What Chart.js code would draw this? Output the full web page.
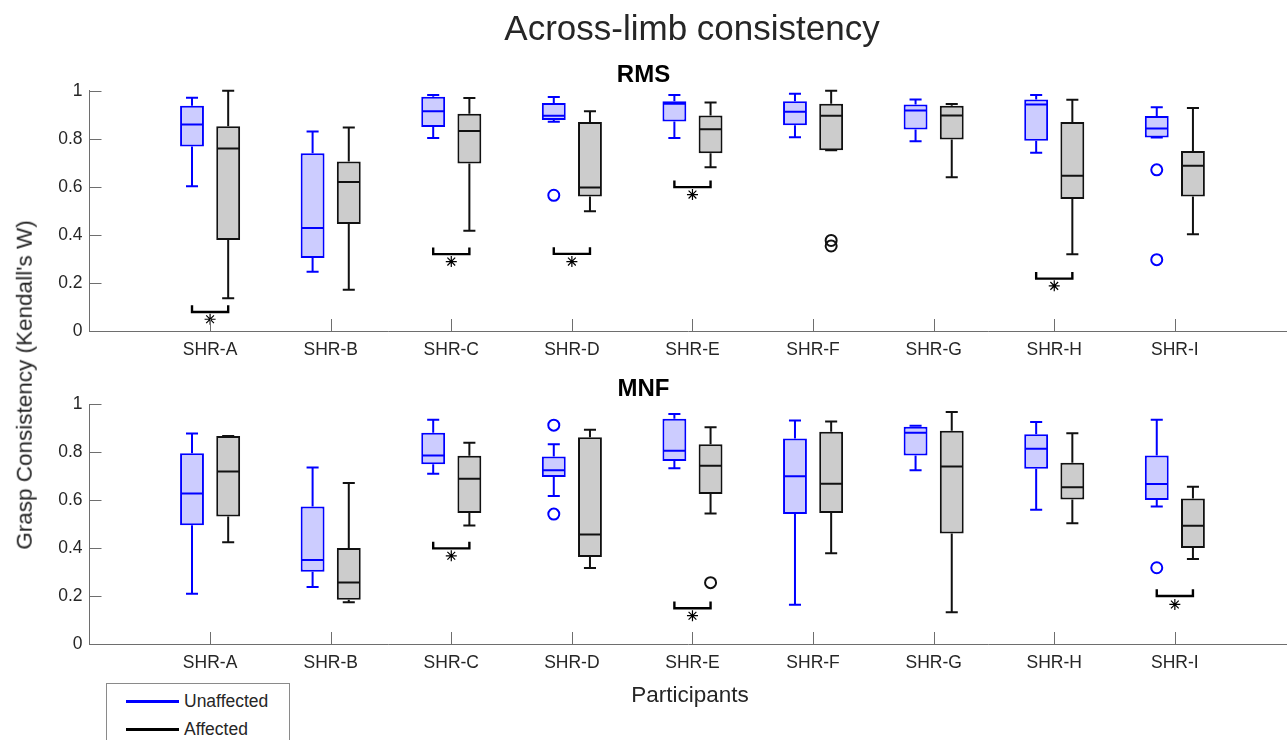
<!DOCTYPE html>
<html>
<head>
<meta charset="utf-8">
<title>Across-limb consistency</title>
<script src="https://cdn.jsdelivr.net/npm/chart.js@4.4.1/dist/chart.umd.min.js"></script>
<style>
  body { margin: 0; background: #fff; font-family: "Liberation Sans", Arial, sans-serif; }
  #page { position: relative; width: 1287px; height: 740px; overflow: hidden; background: #fff; }
  #page canvas { position: absolute; left: 0; }
  #rmsChart { top: 0; }
  #mnfChart { top: 370px; }
  .txt { position: absolute; color: #262626; white-space: nowrap; line-height: 1; }
  #mainTitle { left: 692px; top: 10px; font-size: 35px; transform: translateX(-50%); }
  #yTitle { left: 25px; top: 385px; font-size: 22.5px; transform: translate(-50%, -50%) rotate(-90deg); }
  #xTitle { left: 690px; top: 684px; font-size: 22.5px; transform: translateX(-50%); }
  #legend { position: absolute; left: 106px; top: 683px; width: 182px; height: 80px;
            border: 1px solid #8a8a8a; background: #fff; }
  .leg-row { position: absolute; left: 19px; height: 20px; display: flex; align-items: center; }
  .leg-line { width: 53px; height: 0; border-top: 3px solid; margin-right: 5px; }
  .leg-row span { font-size: 17.5px; color: #262626; }
</style>
</head>
<body>
<div id="page">
  <canvas id="rmsChart" width="1287" height="370"></canvas>
  <canvas id="mnfChart" width="1287" height="370"></canvas>
  <div class="txt" id="mainTitle">Across-limb consistency</div>
  <div class="txt" id="yTitle">Grasp Consistency (Kendall's W)</div>
  <div class="txt" id="xTitle">Participants</div>
  <div id="legend">
    <div class="leg-row" style="top:7px"><div class="leg-line" style="border-color:#0000ff"></div><span>Unaffected</span></div>
    <div class="leg-row" style="top:35px"><div class="leg-line" style="border-color:#000"></div><span>Affected</span></div>
  </div>
</div>

<script>
// participants on the x axis
const participants = ['SHR-A', 'SHR-B', 'SHR-C', 'SHR-D', 'SHR-E', 'SHR-F', 'SHR-G', 'SHR-H', 'SHR-I'];
const yTicks = [0, 0.2, 0.4, 0.6, 0.8, 1];

// RMS - unaffected limb
const rmsUnaffMin = [0.603, 0.247, 0.804, 0.871, 0.804, 0.807, 0.790, 0.742, 0.806];
const rmsUnaffQ1  = [0.768, 0.304, 0.849, 0.878, 0.872, 0.857, 0.839, 0.792, 0.806];
const rmsUnaffMed = [0.860, 0.429, 0.915, 0.896, 0.946, 0.913, 0.918, 0.943, 0.843];
const rmsUnaffQ3  = [0.938, 0.740, 0.975, 0.949, 0.957, 0.956, 0.943, 0.964, 0.895];
const rmsUnaffMax = [0.971, 0.831, 0.983, 0.974, 0.983, 0.988, 0.964, 0.983, 0.931];
const rmsUnaffOut = [[], [], [], [0.565], [], [], [], [], [0.671, 0.297]];

// RMS - affected limb
const rmsAffMin = [0.136, 0.172, 0.417, 0.499, 0.682, 0.752, 0.640, 0.320, 0.403];
const rmsAffQ1  = [0.379, 0.445, 0.697, 0.560, 0.740, 0.752, 0.797, 0.550, 0.560];
const rmsAffMed = [0.760, 0.620, 0.833, 0.597, 0.840, 0.896, 0.897, 0.646, 0.688];
const rmsAffQ3  = [0.852, 0.706, 0.904, 0.870, 0.897, 0.946, 0.938, 0.870, 0.749];
const rmsAffMax = [1.000, 0.847, 0.970, 0.915, 0.951, 1.000, 0.945, 0.963, 0.928];
const rmsAffOut = [[], [], [], [], [], [0.377, 0.354], [], [], []];

// RMS - significant differences (participant index, bracket level, asterisk level)
const rmsSigIdx   = [0, 2, 3, 4, 7];
const rmsSigY     = [0.079, 0.320, 0.321, 0.599, 0.218];
const rmsSigStarY = [0.049, 0.289, 0.289, 0.568, 0.188];

// MNF - unaffected limb
const mnfUnaffMin = [0.210, 0.238, 0.710, 0.617, 0.733, 0.164, 0.725, 0.560, 0.574];
const mnfUnaffQ1  = [0.495, 0.301, 0.750, 0.697, 0.763, 0.542, 0.786, 0.731, 0.601];
const mnfUnaffMed = [0.628, 0.350, 0.786, 0.725, 0.806, 0.700, 0.881, 0.815, 0.667];
const mnfUnaffQ3  = [0.796, 0.574, 0.881, 0.782, 0.940, 0.857, 0.906, 0.875, 0.786];
const mnfUnaffMax = [0.878, 0.736, 0.936, 0.833, 0.960, 0.932, 0.911, 0.926, 0.936];
const mnfUnaffOut = [[], [], [], [0.913, 0.542], [], [], [], [], [0.318]];

// MNF - affected limb
const mnfAffMin = [0.424, 0.174, 0.494, 0.317, 0.544, 0.379, 0.132, 0.504, 0.355];
const mnfAffQ1  = [0.532, 0.185, 0.546, 0.363, 0.626, 0.546, 0.461, 0.603, 0.401];
const mnfAffMed = [0.720, 0.257, 0.689, 0.457, 0.744, 0.669, 0.740, 0.654, 0.493];
const mnfAffQ3  = [0.868, 0.401, 0.785, 0.863, 0.833, 0.885, 0.890, 0.756, 0.607];
const mnfAffMax = [0.868, 0.672, 0.840, 0.894, 0.904, 0.928, 0.968, 0.879, 0.656];
const mnfAffOut = [[], [], [], [], [0.256], [], [], [], []];

// MNF - significant differences
const mnfSigIdx   = [2, 4, 8];
const mnfSigY     = [0.399, 0.149, 0.200];
const mnfSigStarY = [0.368, 0.118, 0.165];

const BLUE = '#0000ff';
const BLACK = '#111111';
const AXIS = '#6e6e6e';
const FONT = '"Liberation Sans", Arial, sans-serif';
const OFFSET = 0.15;     // box centre offset from the participant tick
const CAP = 0.05;        // half width of whisker caps
const BRACKET_H = 0.028; // height of the significance bracket legs

// whiskers, caps and median lines, drawn with the chart scales
const boxWhiskerPlugin = {
  id: 'boxWhisker',
  afterDatasetsDraw(chart, args, opts) {
    const ctx = chart.ctx;
    const xs = chart.scales.x, ys = chart.scales.y;
    opts.groups.forEach(g => {
      const meta = chart.getDatasetMeta(g.dataset);
      ctx.save();
      ctx.strokeStyle = g.color;
      ctx.lineWidth = 2;
      participants.forEach((p, i) => {
        const cx = xs.getPixelForValue(i + 1 + g.offset);
        const capL = xs.getPixelForValue(i + 1 + g.offset - CAP);
        const capR = xs.getPixelForValue(i + 1 + g.offset + CAP);
        const half = meta.data[i].width / 2;
        const yMax = ys.getPixelForValue(g.max[i]);
        const yMin = ys.getPixelForValue(g.min[i]);
        const yQ1 = ys.getPixelForValue(g.q1[i]);
        const yQ3 = ys.getPixelForValue(g.q3[i]);
        const yMed = ys.getPixelForValue(g.med[i]);
        ctx.beginPath();
        ctx.moveTo(cx, yQ3); ctx.lineTo(cx, yMax);
        ctx.moveTo(capL, yMax); ctx.lineTo(capR, yMax);
        ctx.moveTo(cx, yQ1); ctx.lineTo(cx, yMin);
        ctx.moveTo(capL, yMin); ctx.lineTo(capR, yMin);
        ctx.moveTo(cx - half + 1, yMed); ctx.lineTo(cx + half - 1, yMed);
        ctx.stroke();
      });
      ctx.restore();
    });
  }
};

// MATLAB style inward tick marks
const inwardTicksPlugin = {
  id: 'inwardTicks',
  afterDraw(chart) {
    const ctx = chart.ctx;
    const xs = chart.scales.x, ys = chart.scales.y;
    const area = chart.chartArea;
    ctx.save();
    ctx.strokeStyle = AXIS;
    ctx.lineWidth = 1;
    ctx.beginPath();
    ys.ticks.forEach(t => {
      const py = Math.round(ys.getPixelForValue(t.value)) + 0.5;
      ctx.moveTo(area.left, py); ctx.lineTo(area.left + 12, py);
    });
    xs.ticks.forEach(t => {
      const px = Math.round(xs.getPixelForValue(t.value)) + 0.5;
      ctx.moveTo(px, area.bottom); ctx.lineTo(px, area.bottom - 12);
    });
    ctx.stroke();
    ctx.restore();
  }
};

function outlierPoints(list, offset) {
  const pts = [];
  list.forEach((vals, i) => vals.forEach(v => pts.push({ x: i + 1 + offset, y: v })));
  return pts;
}

function boxData(q1, q3) {
  return q1.map((v, i) => ({ x: i + 1, y: [v, q3[i]] }));
}

function makeChart(canvasId, title, titlePad, axisHeight, d) {
  const datasets = [
    {
      type: 'bar', label: 'Unaffected', data: boxData(d.unaffQ1, d.unaffQ3),
      backgroundColor: '#ccccff', borderColor: BLUE, borderWidth: 2, borderSkipped: false,
      categoryPercentage: 0.6, barPercentage: 0.66
    },
    {
      type: 'bar', label: 'Affected', data: boxData(d.affQ1, d.affQ3),
      backgroundColor: '#cccccc', borderColor: BLACK, borderWidth: 2, borderSkipped: false,
      categoryPercentage: 0.6, barPercentage: 0.66
    },
    {
      type: 'scatter', label: 'Unaffected outliers', data: outlierPoints(d.unaffOut, -OFFSET),
      pointStyle: 'circle', pointRadius: 5.5, pointBorderWidth: 2,
      pointBorderColor: BLUE, pointBackgroundColor: 'rgba(0,0,0,0)'
    },
    {
      type: 'scatter', label: 'Affected outliers', data: outlierPoints(d.affOut, OFFSET),
      pointStyle: 'circle', pointRadius: 5.5, pointBorderWidth: 2,
      pointBorderColor: BLACK, pointBackgroundColor: 'rgba(0,0,0,0)'
    },
    {
      type: 'scatter', label: 'Significance', data: d.sigIdx.map((p, k) => ({ x: p + 1, y: d.sigStarY[k] })),
      pointStyle: 'star', pointRadius: 5.5, pointBorderWidth: 1.2,
      pointBorderColor: '#000', pointBackgroundColor: '#000'
    }
  ];
  // one bracket per significant participant
  d.sigIdx.forEach((p, k) => {
    const c = p + 1, y = d.sigY[k];
    datasets.push({
      type: 'scatter', label: 'bracket', showLine: true, borderColor: '#000', borderWidth: 2.4,
      pointRadius: 0, tension: 0,
      data: [
        { x: c - OFFSET, y: y + BRACKET_H }, { x: c - OFFSET, y: y },
        { x: c + OFFSET, y: y }, { x: c + OFFSET, y: y + BRACKET_H }
      ]
    });
  });

  return new Chart(document.getElementById(canvasId), {
    type: 'bar',
    data: { datasets: datasets },
    options: {
      responsive: false,
      animation: false,
      devicePixelRatio: 1,
      events: [],
      layout: { autoPadding: false, padding: { left: 0, right: 0, top: 0, bottom: 0 } },
      plugins: {
        legend: { display: false },
        tooltip: { enabled: false },
        title: {
          display: true, text: title, color: '#000',
          font: { family: FONT, size: 24, weight: 'bold', lineHeight: 1.2 },
          padding: titlePad
        },
        boxWhisker: {
          groups: [
            { dataset: 0, color: BLUE, offset: -OFFSET, min: d.unaffMin, q1: d.unaffQ1, med: d.unaffMed, q3: d.unaffQ3, max: d.unaffMax },
            { dataset: 1, color: BLACK, offset: OFFSET, min: d.affMin, q1: d.affQ1, med: d.affMed, q3: d.affQ3, max: d.affMax }
          ]
        }
      },
      scales: {
        x: {
          type: 'linear', min: 0, max: 9.93, offset: false,
          grid: { display: false, drawTicks: false, offset: false },
          border: { display: true, color: AXIS, width: 1 },
          afterBuildTicks: s => { s.ticks = participants.map((p, i) => ({ value: i + 1 })); },
          afterFit: s => { s.height = axisHeight; },
          ticks: {
            autoSkip: false, maxRotation: 0, padding: 9, color: '#262626',
            font: { family: FONT, size: 17.5 },
            callback: v => participants[v - 1]
          }
        },
        y: {
          type: 'linear', min: 0, max: 1,
          grid: { display: false, drawTicks: false },
          border: { display: true, color: AXIS, width: 1 },
          afterBuildTicks: s => { s.ticks = yTicks.map(v => ({ value: v })); },
          afterFit: s => { s.width = 89.5; },
          ticks: {
            padding: 7, color: '#262626',
            font: { family: FONT, size: 17.5 },
            callback: v => String(v)
          }
        }
      }
    },
    plugins: [boxWhiskerPlugin, inwardTicksPlugin]
  });
}

makeChart('rmsChart', 'RMS', { top: 61, bottom: 1 }, 39, {
  unaffMin: rmsUnaffMin, unaffQ1: rmsUnaffQ1, unaffMed: rmsUnaffMed, unaffQ3: rmsUnaffQ3, unaffMax: rmsUnaffMax, unaffOut: rmsUnaffOut,
  affMin: rmsAffMin, affQ1: rmsAffQ1, affMed: rmsAffMed, affQ3: rmsAffQ3, affMax: rmsAffMax, affOut: rmsAffOut,
  sigIdx: rmsSigIdx, sigY: rmsSigY, sigStarY: rmsSigStarY
});

makeChart('mnfChart', 'MNF', { top: 5, bottom: 0.5 }, 96, {
  unaffMin: mnfUnaffMin, unaffQ1: mnfUnaffQ1, unaffMed: mnfUnaffMed, unaffQ3: mnfUnaffQ3, unaffMax: mnfUnaffMax, unaffOut: mnfUnaffOut,
  affMin: mnfAffMin, affQ1: mnfAffQ1, affMed: mnfAffMed, affQ3: mnfAffQ3, affMax: mnfAffMax, affOut: mnfAffOut,
  sigIdx: mnfSigIdx, sigY: mnfSigY, sigStarY: mnfSigStarY
});
</script>
</body>
</html>
